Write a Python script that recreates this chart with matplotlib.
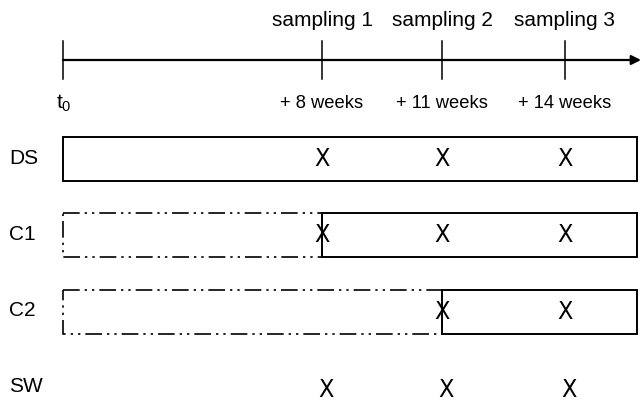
import matplotlib.pyplot as plt
import numpy as np
from matplotlib.patches import Rectangle

plt.rcParams['font.family'] = ['Liberation Sans', 'DejaVu Sans']
plt.rcParams['mathtext.fontset'] = 'custom'
plt.rcParams['mathtext.rm'] = 'Liberation Sans'
plt.rcParams['mathtext.it'] = 'Liberation Sans'

# timeline (weeks after t0)
sampling_weeks = [8, 11, 14]
sampling_labels = ["sampling 1", "sampling 2", "sampling 3"]
week_labels = ["+ 8 weeks", "+ 11 weeks", "+ 14 weeks"]

# treatments: week when the solid box starts, weeks with a sampling cross
rows = ["DS", "C1", "C2", "SW"]
row_start = [0, 8, 11, None]
row_samples = [[8, 11, 14], [8, 11, 14], [11, 14], [8, 11, 14]]

# schematic (not to scale) week -> pixel mapping used in the drawing
knot_weeks = [0, 8, 11, 14, 15]
knot_x = [63, 322, 442, 565, 637]


def wx(w):
    return np.interp(w, knot_weeks, knot_x)


fig = plt.figure(figsize=(6.41, 4.05), dpi=100)
ax = fig.add_axes([0, 0, 1, 1])
ax.set_xlim(0, 641)
ax.set_ylim(405, 0)
ax.axis("off")

# time axis with arrow
ax.annotate("", xy=(641, 60), xytext=(wx(0), 60),
            arrowprops=dict(arrowstyle="-|>", lw=1.6, color="black",
                            mutation_scale=14, shrinkA=0, shrinkB=0))
for w in [0] + sampling_weeks:
    ax.plot([wx(w), wx(w)], [41, 79], color="black", lw=1.1)
ax.text(wx(0) + 1, 103, r"t$_0$", ha="center", va="center", fontsize=15)
for w, s, lab in zip(sampling_weeks, sampling_labels, week_labels):
    ax.text(wx(w), 21, s, ha="center", va="center", fontsize=15)
    ax.text(wx(w), 103, lab, ha="center", va="center", fontsize=13.2)

row_y = [159, 235, 312, 390]
box_h = 44
dashdot = (0, (10, 3, 1.4, 3, 1.4, 3))

for name, start, samples, y in zip(rows, row_start, row_samples, row_y):
    ax.text(9, y - 1 if name != "SW" else y - 4, name, ha="left",
            va="center", fontsize=15)
    dx = 0
    if start is None:
        dx = 4
    else:
        if start > 0:
            ax.add_patch(Rectangle((wx(0), y - box_h / 2), wx(start) - wx(0),
                                   box_h, fill=False, lw=1.2, ls=dashdot,
                                   ec="black"))
        ax.add_patch(Rectangle((wx(start), y - box_h / 2),
                               wx(15) - wx(start), box_h, fill=False,
                               lw=1.4, ec="black"))
    for w in samples:
        ax.text(wx(w) + dx, y, "X", ha="center", va="center", fontsize=18,
                family="DejaVu Sans", fontstretch="condensed")

fig.savefig("out.png", dpi=100)
